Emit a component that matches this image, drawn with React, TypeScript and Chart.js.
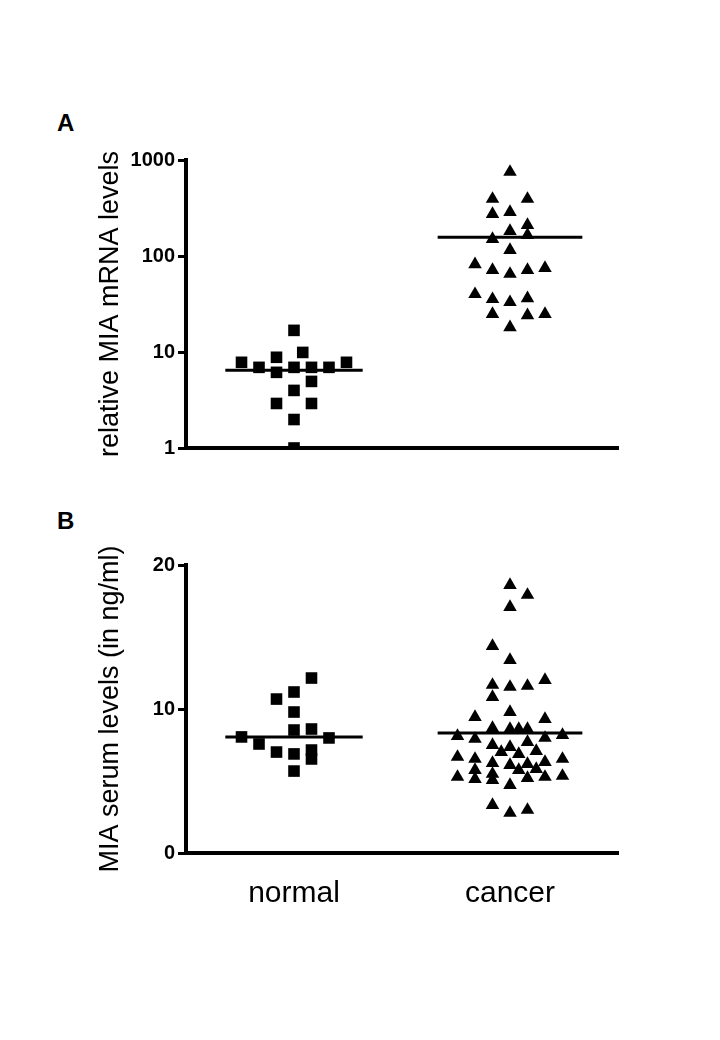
import React, { useEffect, useRef } from 'react';
import { Chart, registerables } from 'chart.js';

Chart.register(...registerables);

const FONT = "'Liberation Sans', Arial, Helvetica, sans-serif";

const categories = ['normal', 'cancer'];

// Panel A: relative MIA mRNA levels (log scale)
const mrnaTickValues = [1, 10, 100, 1000];
const mrnaNormal = [16.8, 9.9, 7.81, 6.92, 8.81, 6.14, 6.92, 6.92, 6.92, 7.81, 4.94, 3.98, 2.91, 2.91, 1.98, 1.0];
const mrnaNormalColumn = [0, 1, -6, -4, -2, -2, 0, 2, 4, 6, 2, 0, -2, 2, 0, 0];
const mrnaCancer = [751, 393, 393, 274, 287, 210, 182, 165, 150, 115, 82, 71.5, 65, 71.5, 75, 40, 35.5, 33, 36.3, 24.8, 24.1, 24.8, 18.1];
const mrnaCancerColumn = [0, -2, 2, -2, 0, 2, 0, 2, -2, 0, -4, -2, 0, 2, 4, -4, -2, 0, 2, -2, 2, 4, 0];
const mrnaMedians = [6.44, 157];

// Panel B: MIA serum levels (ng/ml)
const serumTickValues = [0, 10, 20];
const serumNormal = [12.15, 11.18, 10.69, 9.79, 8.54, 8.61, 8.06, 7.99, 7.57, 7.01, 6.88, 7.15, 6.53, 5.69];
const serumNormalColumn = [2, 0, -2, 0, 0, 2, -6, 4, -4, -2, 0, 2, 2, 0];
const serumCancer = [
  18.61, 17.92, 17.08, 14.37, 13.4, 12.01, 11.67, 11.6, 11.53, 10.83,
  9.79, 9.44, 9.3, 8.68, 8.61, 8.61, 8.61, 8.12, 7.92, 7.99,
  8.19, 7.5, 7.71, 7.36, 7.01, 6.87, 7.08, 6.67, 6.53, 6.25,
  6.11, 6.18, 6.32, 6.53, 5.76, 5.76, 5.83, 5.28, 5.14, 5.49,
  5.07, 5.21, 5.28, 5.35, 4.72, 3.33, 2.78, 2.99,
];
const serumCancerColumn = [
  0, 2, 0, -2, 0, 4, -2, 2, 0, -2,
  0, -4, 4, -2, 0, 1, 2, -6, -4, 4,
  6, -2, 2, 0, -1, 1, 3, -6, -4, -2,
  0, 2, 4, 6, -4, 1, 3, -6, -4, -2,
  -2, 2, 4, 6, 0, -2, 0, 2,
];
const serumMedians = [8.06, 8.33];

const COLUMN_STEP = 0.0405; // horizontal spread of one column, in category units

function toPoints(group: number, values: number[], cols: number[]) {
  return values.map((v, i) => ({ x: group + cols[i] * COLUMN_STEP, y: v }));
}

type PanelSpec = {
  normal: number[];
  normalCol: number[];
  cancer: number[];
  cancerCol: number[];
  medians: number[];
  yType: 'logarithmic' | 'linear';
  yMin: number;
  yMax: number;
  yTicks: number[];
  yTitle: string;
  showX: boolean;
  xHeight: number;
  padding: { top: number; left: number; right: number; bottom: number };
};

function medianLine(group: number, value: number, half: number) {
  return {
    type: 'line',
    data: [
      { x: group - half, y: value },
      { x: group + half, y: value },
    ],
    borderColor: '#000',
    borderWidth: 3,
    pointRadius: 0,
    showLine: true,
    clip: false,
  };
}

function panelConfig(p: PanelSpec): any {
  return {
    type: 'scatter',
    data: {
      datasets: [
        {
          data: toPoints(1, p.normal, p.normalCol),
          pointStyle: 'rect',
          pointRadius: 8.2,
          backgroundColor: '#000',
          borderColor: '#000',
          borderWidth: 0,
          clip: 0,
        },
        {
          data: toPoints(2, p.cancer, p.cancerCol),
          pointStyle: 'triangle',
          pointRadius: 7.8,
          backgroundColor: '#000',
          borderColor: '#000',
          borderWidth: 0,
          clip: 0,
        },
        medianLine(1, p.medians[0], 0.318),
        medianLine(2, p.medians[1], 0.335),
      ],
    },
    options: {
      animation: false,
      responsive: false,
      maintainAspectRatio: false,
      events: [],
      layout: { padding: p.padding },
      plugins: {
        legend: { display: false },
        tooltip: { enabled: false },
        title: { display: false },
      },
      scales: {
        x: {
          type: 'linear',
          position: 'bottom',
          min: 0.5,
          max: 2.5,
          afterBuildTicks: (s: any) => {
            s.ticks = [1, 2].map((v) => ({ value: v }));
          },
          afterFit: (s: any) => {
            s.height = p.xHeight;
          },
          ticks: {
            display: p.showX,
            autoSkip: false,
            maxRotation: 0,
            color: '#000',
            padding: 23,
            font: { family: FONT, size: 30 },
            callback: (v: any) => categories[Number(v) - 1] ?? '',
          },
          grid: { display: false, drawTicks: false },
          border: { display: true, color: '#000', width: 4 },
        },
        y: {
          type: p.yType,
          min: p.yMin,
          max: p.yMax,
          afterBuildTicks: (s: any) => {
            s.ticks = p.yTicks.map((v) => ({ value: v }));
          },
          afterFit: (s: any) => {
            s.width = 186;
          },
          ticks: {
            color: '#000',
            padding: 3,
            font: { family: FONT, size: 20, weight: 'bold' },
            callback: (v: any) => String(v),
          },
          grid: {
            display: true,
            drawOnChartArea: false,
            drawTicks: true,
            tickLength: 8,
            tickWidth: 3,
            tickColor: '#000',
          },
          border: { display: true, color: '#000', width: 4 },
          title: {
            display: true,
            text: p.yTitle,
            color: '#000',
            font: { family: FONT, size: 27 },
            padding: { top: 111 - 16.2, bottom: 0 },
          },
        },
      },
    },
  };
}

function Panel({ spec, top, height }: { spec: PanelSpec; top: number; height: number }) {
  const ref = useRef<HTMLCanvasElement | null>(null);
  useEffect(() => {
    if (!ref.current) return;
    const chart = new Chart(ref.current, panelConfig(spec));
    return () => chart.destroy();
  }, []);
  return (
    <canvas
      ref={ref}
      width={720}
      height={height}
      style={{ position: 'absolute', left: 0, top, width: 720, height }}
    />
  );
}

const panelA: PanelSpec = {
  normal: mrnaNormal,
  normalCol: mrnaNormalColumn,
  cancer: mrnaCancer,
  cancerCol: mrnaCancerColumn,
  medians: mrnaMedians,
  yType: 'logarithmic',
  yMin: 1,
  yMax: 1000,
  yTicks: mrnaTickValues,
  yTitle: 'relative MIA mRNA levels',
  showX: false,
  xHeight: 20,
  padding: { top: 30, left: 0, right: 102, bottom: 2 },
};

const panelB: PanelSpec = {
  normal: serumNormal,
  normalCol: serumNormalColumn,
  cancer: serumCancer,
  cancerCol: serumCancerColumn,
  medians: serumMedians,
  yType: 'linear',
  yMin: 0,
  yMax: 20,
  yTicks: serumTickValues,
  yTitle: 'MIA serum levels (in ng/ml)',
  showX: true,
  xHeight: 70,
  padding: { top: 35, left: 0, right: 102, bottom: 7 },
};

const labelStyle: React.CSSProperties = {
  position: 'absolute',
  left: 57,
  fontFamily: FONT,
  fontWeight: 'bold',
  fontSize: 24,
  lineHeight: '24px',
  color: '#000',
  margin: 0,
};

export default function App() {
  return (
    <div style={{ position: 'absolute', left: 0, top: 0, width: 720, height: 1040, background: '#fff' }}>
      <div style={{ ...labelStyle, top: 111 }}>A</div>
      <Panel spec={panelA} top={130} height={340} />
      <div style={{ ...labelStyle, top: 509 }}>B</div>
      <Panel spec={panelB} top={530} height={400} />
    </div>
  );
}
